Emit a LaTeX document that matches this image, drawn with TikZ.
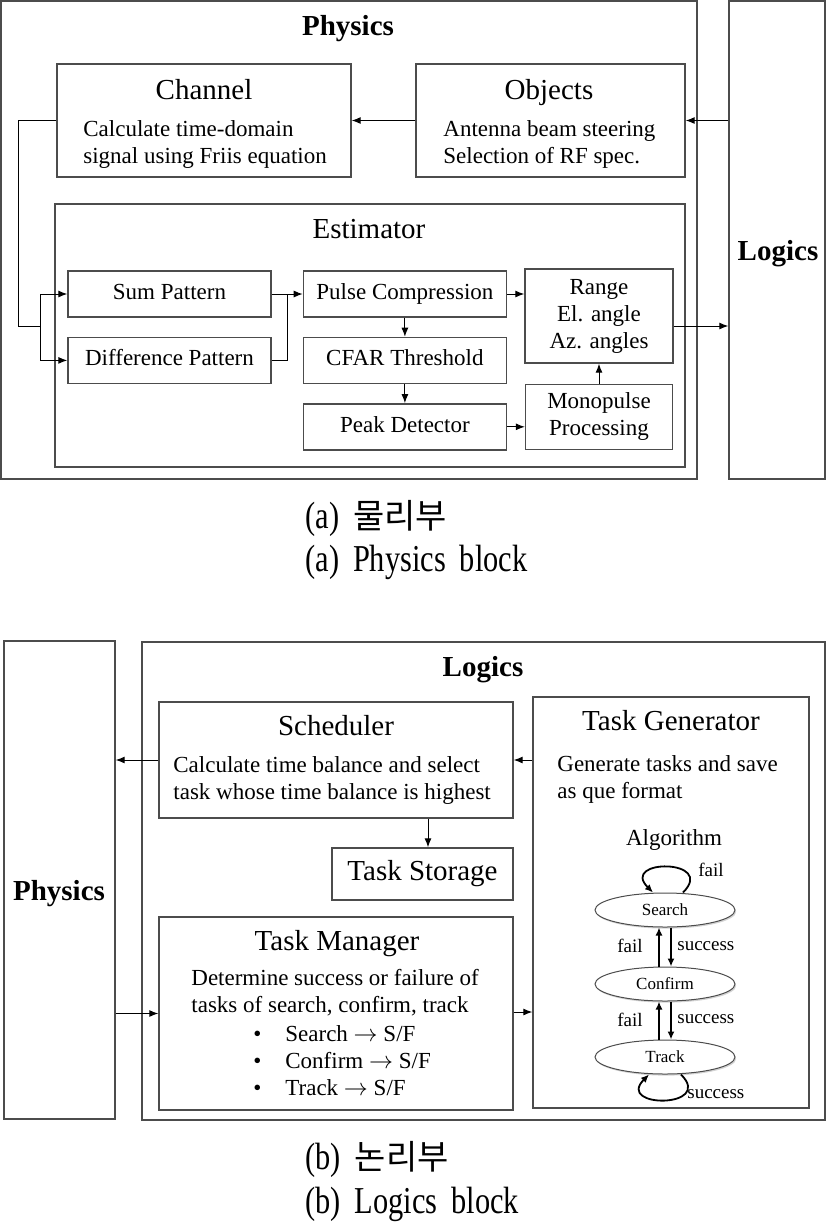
\documentclass[tikz,border=0pt]{standalone}
\usepackage{fontspec}
\setmainfont{Liberation Serif}
\newfontfamily\capfont[FakeStretch=0.8]{Liberation Serif}
\newfontfamily\kofont{Noto Sans CJK KR}
\usetikzlibrary{positioning}
\usetikzlibrary{shapes.geometric}
\usetikzlibrary{arrows.meta}
\usetikzlibrary{shadows}
\begin{document}
\begin{tikzpicture}[
  x=0.5pt, y=-0.5pt,
  frame/.style={draw=black!70, line width=0.7pt, inner sep=0pt},
  box/.style={frame, minimum width=101.5pt, minimum height=23pt, text height=8pt, text depth=2.5pt, font=\fontsize{11.5}{13.5}\selectfont},
  mbox/.style={frame, align=center, font=\fontsize{11.5}{13.5}\selectfont},
  ttl/.style={anchor=base, inner sep=0pt, font=\fontsize{14.5}{17}\selectfont},
  txt/.style={anchor=base west, inner sep=0pt, align=left, font=\fontsize{11.5}{13.5}\selectfont},
  lbl/.style={anchor=base, inner sep=0pt, font=\bfseries\fontsize{14.5}{17}\selectfont},
  state/.style={ellipse, draw=black!70, line width=0.5pt, fill=white, minimum width=70pt, minimum height=17pt, inner sep=0pt, font=\fontsize{8.5}{10}\selectfont, drop shadow={shadow xshift=0.6pt, shadow yshift=-0.8pt, opacity=0.35}},
  small/.style={inner sep=0pt, font=\fontsize{9.5}{11}\selectfont},
  arrow/.style={-{Latex[length=4.5pt, width=3.5pt]}, line width=0.5pt},
  looparrow/.style={-{Latex[length=4pt, width=3.5pt]}, line width=0.9pt},
  captxt/.style={anchor=base west, inner sep=0pt, font=\fontsize{19}{22}\selectfont}
]
\useasboundingbox (0,0) rectangle (827,1223);

% (a) physics block
\node[frame, minimum width=348pt, minimum height=239pt] (physA) at (349,240) {};
\node[lbl] (physAlbl) at (348,35) {Physics};
\node[frame, minimum width=48pt, minimum height=239pt] (logA) at (777,240) {};
\node[lbl] (logAlbl) at (778,260) {Logics};

\node[frame, minimum width=147pt, minimum height=56.5pt] (chan) at (204,120.5) {};
\node[ttl] (chanT) at (204,99) {Channel};
\node[txt] (chanX) at (83,163) {Calculate time-domain\\signal using Friis equation};

\node[frame, minimum width=134.5pt, minimum height=56.5pt] (obj) at (550.5,120.5) {};
\node[ttl] (objT) at (549,99) {Objects};
\node[txt] (objX) at (443,163) {Antenna beam steering\\Selection of RF spec.};

\node[frame, minimum width=315pt, minimum height=131.5pt] (est) at (370,335.5) {};
\node[ttl] (estT) at (369,238) {Estimator};

\node[box] (sum) at (169.5,294) {Sum Pattern};
\node[box, below=9.5pt of sum] (diff) {Difference Pattern};
\node[box, right=15.5pt of sum] (pulse) {Pulse Compression};
\node[box, below=9.5pt of pulse] (cfar) {CFAR Threshold};
\node[box, below=9.5pt of cfar] (peak) {Peak Detector};
\node[mbox, minimum width=74pt, minimum height=47pt] (range) at (599,316) {Range\\El. angle\\Az. angles};
\node[mbox, minimum width=73.5pt, minimum height=32.5pt, below=10pt of range] (mono) {Monopulse\\Processing};

\draw[arrow] (obj.west) -- (chan.east);
\draw[arrow] (logA.west |- obj.east) -- (obj.east);
\coordinate (split) at (40,326);
\draw (chan.west) -- ++(-38,0) |- (split);
\draw[arrow] (split) |- (sum.west);
\draw[arrow] (split) |- (diff.west);
\coordinate (join) at ([xshift=8pt]sum.east);
\draw (sum.east) -- (join);
\draw (diff.east) -| (join);
\draw[arrow] (join) -- (pulse.west);
\draw[arrow] (pulse) -- (cfar);
\draw[arrow] (cfar) -- (peak);
\draw[arrow] (pulse.east) -- (pulse.east -| range.west);
\draw[arrow] (peak.east) -- (peak.east -| mono.west);
\draw[arrow] (mono) -- (range);
\draw[arrow] ([yshift=-5pt]range.east) -- ([yshift=-5pt]range.east -| logA.west);

\node[captxt] (capAko) at (305,528) {{\capfont (a)\ \,}{\kofont\fontsize{17}{20}\selectfont 물리부}};
\node[captxt] (capAen) at (305,571) {\capfont (a)\ \,Physics\ \,block};

% (b) logics block
\node[frame, minimum width=55.5pt, minimum height=239pt] (physB) at (59.5,880) {};
\node[lbl] (physBlbl) at (59,900) {Physics};
\node[frame, minimum width=341.5pt, minimum height=239pt] (logB) at (483.5,881) {};
\node[lbl] (logBlbl) at (483,676) {Logics};

\node[frame, minimum width=177pt, minimum height=58pt] (sched) at (336,760) {};
\node[ttl] (schedT) at (336,735) {Scheduler};
\node[txt] (schedX) at (173,799) {Calculate time balance and select\\task whose time balance is highest};

\node[frame, minimum width=90.5pt, minimum height=26pt, font=\fontsize{14.5}{17}\selectfont] (store) at (422.5,874) {Task Storage};

\node[frame, minimum width=177pt, minimum height=96.5pt] (tman) at (336,1013.5) {};
\node[ttl] (tmanT) at (337,950) {Task Manager};
\node[txt] (tmanX) at (191,1012) {Determine success or failure of\\tasks of search, confirm, track};
\node[txt] (tmanL) at (253,1095) {\makebox[16pt][l]{\textbullet}Search $\rightarrow$ S/F\\
  \makebox[16pt][l]{\textbullet}Confirm $\rightarrow$ S/F\\
  \makebox[16pt][l]{\textbullet}Track $\rightarrow$ S/F};

\node[frame, minimum width=138pt, minimum height=205.5pt] (tgen) at (671,902.5) {};
\node[ttl] (tgenT) at (671,730) {Task Generator};
\node[txt] (tgenX) at (557,798) {Generate tasks and save\\as que format};
\node[ttl, font=\fontsize{11.5}{13.5}\selectfont] (algT) at (674,845) {Algorithm};

\node[state] (search) at (665,910) {Search};
\node[state] (confirm) at (665,984) {Confirm};
\node[state] (track) at (665,1057) {Track};

\draw[looparrow] ([xshift=9pt]search.north) to[out=45, in=135, distance=24pt] ([xshift=-6pt]search.north);
\draw[looparrow] ([xshift=-3pt]confirm.north) -- ([xshift=-3pt]search.south);
\draw[looparrow] ([xshift=3pt]search.south) -- ([xshift=3pt]confirm.north);
\draw[looparrow] ([xshift=-3pt]track.north) -- ([xshift=-3pt]confirm.south);
\draw[looparrow] ([xshift=3pt]confirm.south) -- ([xshift=3pt]track.north);
\draw[looparrow] ([xshift=8pt]track.south) to[out=-45, in=-135, distance=24pt] ([xshift=-8pt]track.south);
\node[small, anchor=base west] (f0) at (698,876) {fail};
\node[small, anchor=base east] (f1) at (643,952) {fail};
\node[small, anchor=base west] (s1) at (677,950) {success};
\node[small, anchor=base east] (f2) at (643,1026) {fail};
\node[small, anchor=base west] (s2) at (677,1023) {success};
\node[small, anchor=base west] (s3) at (687,1098) {success};

\draw[arrow] (sched.west) -- (sched.west -| physB.east);
\draw[arrow] (tgen.west |- sched.east) -- (sched.east);
\draw[arrow] ([xshift=2.75pt]store.north |- sched.south) -- ([xshift=2.75pt]store.north);
\draw[arrow] (physB.east |- tman.west) -- (tman.west);
\draw[arrow] ([yshift=0.75pt]tman.east) -- ([yshift=0.75pt]tman.east -| tgen.west);

\node[captxt] (capBko) at (305,1169) {{\capfont (b)\ \,}{\kofont\fontsize{17}{20}\selectfont 논리부}};
\node[captxt] (capBen) at (305,1213) {\capfont (b)\ \,Logics\ \,block};
\end{tikzpicture}
\end{document}
